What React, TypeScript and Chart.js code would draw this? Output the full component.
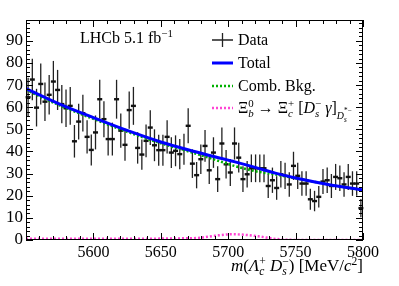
import React, { useEffect, useRef } from 'react';
import { Chart, registerables } from 'chart.js';
Chart.register(...registerables);

// ---------- data ----------
const MASS_MIN = 5550;
const MASS_MAX = 5800;
const BIN_WIDTH = 3.125;
const DATA_COUNTS = [
  64.5, 72.5, 59.8, 70.5, 62.5, 65.6, 71.6, 67.8, 61.4, 59.5,
  60.6, 44.6, 53.5, 57.3, 46.6, 40.7, 48.6, 63.6, 54.6, 45.6,
  45.6, 63.6, 49.4, 43.0, 58.7, 60.6, 41.6, 38.6, 44.8, 50.8,
  42.8, 40.6, 40.6, 46.6, 39.5, 40.3, 38.8, 41.0, 51.6, 34.5,
  29.3, 36.5, 42.5, 31.5, 39.5, 27.5, 43.6, 34.2, 30.5, 43.6,
  37.2, 27.5, 29.7, 32.4, 32.4, 32.4, 32.4, 24.4, 27.0, 23.5,
  29.7, 29.0, 25.1, 33.5, 29.0, 25.5, 25.5, 18.4, 17.6, 19.5,
  26.4, 27.0, 24.4, 28.5, 27.9, 25.1, 28.5, 25.5, 25.5, 14.4,
];
const ERROR_SCALE = 1.1;
const FIT_MASS = [5550, 5575, 5600, 5625, 5650, 5675, 5690, 5705, 5720, 5735, 5750, 5775, 5800];
const TOTAL_FIT = [68.4, 61.4, 55.3, 49.5, 44.3, 40.0, 37.6, 35.3, 32.8, 30.2, 28.0, 25.0, 22.6];
const COMB_BKG = [67.8, 60.8, 54.7, 48.9, 43.7, 39.2, 36.3, 33.4, 31.1, 29.6, 27.9, 25.0, 22.6];
const SIG_MASS = [5550, 5600, 5640, 5660, 5679, 5690, 5703, 5715, 5723, 5735, 5745, 5755, 5800];
const SIG_FIT = [0.6, 0.6, 0.6, 0.7, 1.0, 1.9, 2.6, 2.2, 1.6, 0.5, 0.1, 0.0, 0.0];
const Y_MAX = 99.4;

const FONT = '"Liberation Serif", "Times New Roman", serif';

type Plain = { t: string; it?: boolean; s?: number; dy?: number };
type Seg = Plain | { stack: Plain[] };

function setFont(ctx: CanvasRenderingContext2D, p: Plain, base: number) {
  ctx.font = `${p.it ? 'italic ' : ''}${(p.s ?? 1) * base}px ${FONT}`;
}
function segWidth(ctx: CanvasRenderingContext2D, seg: Seg, base: number): number {
  if ('stack' in seg) return Math.max(...seg.stack.map((s) => segWidth(ctx, s, base)));
  setFont(ctx, seg, base);
  return ctx.measureText(seg.t).width;
}
function drawSegs(ctx: CanvasRenderingContext2D, segs: Seg[], x: number, y: number, base: number, align: 'left' | 'right') {
  ctx.textAlign = 'left';
  ctx.textBaseline = 'alphabetic';
  const total = segs.reduce((a, s) => a + segWidth(ctx, s, base), 0);
  let cx = align === 'right' ? x - total : x;
  for (const seg of segs) {
    const w = segWidth(ctx, seg, base);
    const parts = 'stack' in seg ? seg.stack : [seg];
    for (const p of parts) {
      setFont(ctx, p, base);
      ctx.fillText(p.t, cx, y + (p.dy ?? 0));
    }
    cx += w;
  }
}

const SUP = -6.5;
const SUB = 4;
const SS = 0.68;

const TITLE_SEGS: Seg[] = [
  { t: 'm', it: true }, { t: '(' }, { t: 'Λ', it: true },
  { stack: [{ t: '+', s: SS, dy: SUP }, { t: 'c', it: true, s: SS, dy: SUB }] },
  { t: ' ' }, { t: 'D', it: true },
  { stack: [{ t: '−', s: SS, dy: SUP }, { t: 's', it: true, s: SS, dy: SUB }] },
  { t: ')' }, { t: ' [MeV/' }, { t: 'c', it: true }, { t: '2', s: SS, dy: SUP }, { t: ']' },
];
const LHCB_SEGS: Seg[] = [{ t: 'LHCb 5.1 fb' }, { t: '−1', s: SS, dy: SUP }];
const XI_SEGS: Seg[] = [
  { t: 'Ξ' }, { stack: [{ t: '0', s: SS, dy: SUP }, { t: 'b', it: true, s: SS, dy: SUB }] },
  { t: ' → ' }, { t: 'Ξ' }, { stack: [{ t: '+', s: SS, dy: SUP }, { t: 'c', it: true, s: SS, dy: SUB }] },
  { t: ' [' }, { t: 'D', it: true },
  { stack: [{ t: '−', s: SS, dy: SUP }, { t: 's', it: true, s: SS, dy: SUB }] },
  { t: ' ' }, { t: 'γ', it: true }, { t: ']' },
  { t: 'D', it: true, s: 0.62, dy: 6 },
  { stack: [{ t: '*−', s: 0.45, dy: 0 }, { t: 's', it: true, s: 0.45, dy: 9 }] },
];

const LEGEND = [
  { kind: 'data', label: [{ t: 'Data' }] as Seg[], y: 45 },
  { kind: 'line', color: '#0000ff', dash: [] as number[], label: [{ t: 'Total' }] as Seg[], y: 68 },
  { kind: 'line', color: '#00b000', dash: [2, 2], label: [{ t: 'Comb. Bkg.' }] as Seg[], y: 91 },
  { kind: 'line', color: '#ff44d4', dash: [2, 2], label: XI_SEGS, y: 113 },
];

const dataPlugin = {
  id: 'dataPoints',
  beforeDatasetsDraw(chart: any) {
    const { ctx, scales } = chart;
    const x = scales.x, y = scales.y;
    ctx.save();
    ctx.fillStyle = '#111';
    ctx.strokeStyle = '#222';
    DATA_COUNTS.forEach((v, i) => {
      const m = MASS_MIN + BIN_WIDTH * (i + 0.5);
      const px = x.getPixelForValue(m);
      const e = Math.sqrt(v) * ERROR_SCALE;
      const py = y.getPixelForValue(v);
      ctx.lineWidth = 1.3;
      ctx.beginPath();
      ctx.moveTo(px, y.getPixelForValue(v + e));
      ctx.lineTo(px, y.getPixelForValue(v - e));
      ctx.stroke();
      ctx.fillRect(px - 2.5, py - 1.2, 5, 2.4);
    });
    ctx.restore();
  },
};

const framePlugin = {
  id: 'frameTicks',
  afterDraw(chart: any) {
    const { ctx, chartArea: a, scales } = chart;
    const x = scales.x, y = scales.y;
    ctx.save();
    ctx.strokeStyle = '#000';
    ctx.lineWidth = 1;
    ctx.strokeRect(a.left + 0.5, a.top + 0.5, a.right - a.left - 1, a.bottom - a.top - 1);
    ctx.beginPath();
    for (let m = MASS_MIN; m <= MASS_MAX; m += 10) {
      const px = Math.round(x.getPixelForValue(m)) + 0.5;
      const len = m % 50 === 0 ? 7 : 4;
      ctx.moveTo(px, a.bottom); ctx.lineTo(px, a.bottom - len);
      ctx.moveTo(px, a.top); ctx.lineTo(px, a.top + len);
    }
    for (let v = 0; v <= Y_MAX; v += 2) {
      const py = Math.round(y.getPixelForValue(v)) + 0.5;
      const len = v % 10 === 0 ? 7 : 4;
      ctx.moveTo(a.left, py); ctx.lineTo(a.left + len, py);
      ctx.moveTo(a.right, py); ctx.lineTo(a.right - len, py);
    }
    ctx.stroke();

    // texts
    ctx.fillStyle = '#000';
    drawSegs(ctx, LHCB_SEGS, 80, 43, 16, 'left');
    drawSegs(ctx, TITLE_SEGS, a.right, 271, 17, 'right');

    const sx0 = 212, sx1 = 233, tx = 238;
    for (const item of LEGEND) {
      const cy = item.y - 5;
      if (item.kind === 'data') {
        ctx.strokeStyle = '#222';
        ctx.lineWidth = 1.3;
        ctx.setLineDash([]);
        ctx.beginPath();
        ctx.moveTo(sx0, cy); ctx.lineTo(sx1, cy);
        ctx.moveTo((sx0 + sx1) / 2, cy - 7); ctx.lineTo((sx0 + sx1) / 2, cy + 7);
        ctx.stroke();
      } else {
        ctx.strokeStyle = (item as any).color;
        ctx.lineWidth = item.dash.length ? 2.5 : 3;
        ctx.setLineDash(item.dash);
        ctx.beginPath();
        ctx.moveTo(sx0, cy); ctx.lineTo(sx1, cy);
        ctx.stroke();
        ctx.setLineDash([]);
      }
      ctx.fillStyle = '#000';
      drawSegs(ctx, item.label, tx, item.y, 16, 'left');
    }
    ctx.restore();
  },
};

export default function App() {
  const ref = useRef<HTMLCanvasElement | null>(null);
  useEffect(() => {
    document.body.style.margin = '0';
    const canvas = ref.current!;
    const chart = new Chart(canvas, {
      type: 'line',
      data: {
        datasets: [
          {
            label: 'Total',
            data: FIT_MASS.map((m, i) => ({ x: m, y: TOTAL_FIT[i] })),
            borderColor: '#0000ff',
            borderWidth: 3,
            pointRadius: 0,
            cubicInterpolationMode: 'monotone',
            order: 1,
          },
          {
            label: 'Comb. Bkg.',
            data: FIT_MASS.map((m, i) => ({ x: m, y: COMB_BKG[i] })),
            borderColor: '#00b000',
            borderWidth: 2.5,
            borderDash: [2, 2],
            pointRadius: 0,
            cubicInterpolationMode: 'monotone',
            order: 2,
          },
          {
            label: 'Signal',
            data: SIG_MASS.map((m, i) => ({ x: m, y: SIG_FIT[i] })),
            borderColor: '#ff44d4',
            borderWidth: 2.5,
            borderDash: [2, 2],
            pointRadius: 0,
            cubicInterpolationMode: 'monotone',
            order: 3,
          },
        ],
      },
      options: {
        responsive: false,
        animation: false,
        layout: { padding: { top: 20, right: 36, left: 0, bottom: 0 } },
        plugins: { legend: { display: false }, tooltip: { enabled: false } },
        scales: {
          x: {
            type: 'linear',
            min: MASS_MIN,
            max: MASS_MAX,
            grid: { display: false, drawTicks: false },
            border: { display: false },
            ticks: {
              stepSize: 50,
              padding: 3,
              color: '#000',
              font: { family: FONT, size: 16 },
              maxRotation: 0,
              callback: (v: any) => (v === MASS_MIN ? '' : String(v)),
            },
            afterFit: (s: any) => { s.height = 46; s.paddingLeft = 0; s.paddingRight = 0; },
          },
          y: {
            type: 'linear',
            min: 0,
            max: Y_MAX,
            grid: { display: false, drawTicks: false },
            border: { display: false },
            ticks: {
              stepSize: 10,
              includeBounds: false,
              padding: 3,
              color: '#000',
              font: { family: FONT, size: 17 },
              callback: (v: any) => String(v),
            },
            afterFit: (s: any) => { s.width = 26; s.paddingTop = 0; s.paddingBottom = 0; },
          },
        },
      },
      plugins: [dataPlugin, framePlugin],
    } as any);
    return () => chart.destroy();
  }, []);
  return (
    <div style={{ width: 399, height: 286 }}>
      <canvas ref={ref} width={399} height={286} />
    </div>
  );
}
